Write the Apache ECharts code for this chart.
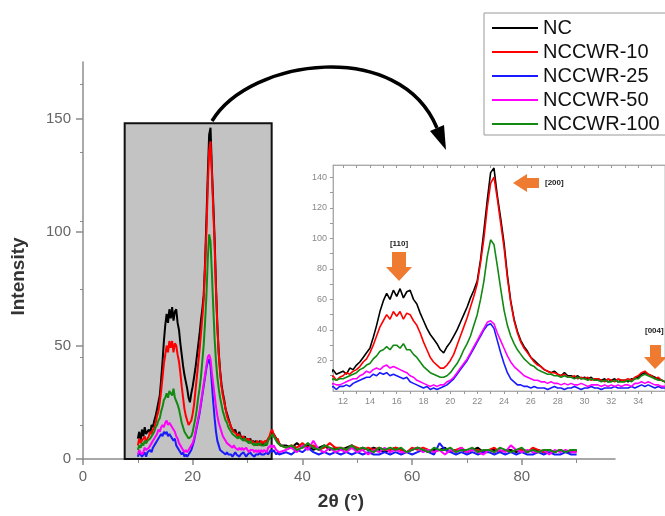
<!DOCTYPE html>
<html>
<head>
<meta charset="utf-8">
<script src="https://cdn.jsdelivr.net/npm/echarts@6/dist/echarts.min.js"></script>
<style>
  html, body { margin: 0; padding: 0; background: #fff; }
  #chart { width: 665px; height: 516px; }
</style>
</head>
<body>
<div id="chart"></div>
<script>
// diffraction angle, 0.25 deg steps over the peaks, 1 deg steps beyond
const twoTheta = [
  10, 10.25, 10.5, 10.75, 11, 11.25, 11.5, 11.75, 12, 12.25, 12.5, 12.75,
  13, 13.25, 13.5, 13.75, 14, 14.25, 14.5, 14.75, 15, 15.25, 15.5, 15.75,
  16, 16.25, 16.5, 16.75, 17, 17.25, 17.5, 17.75, 18, 18.25, 18.5, 18.75,
  19, 19.25, 19.5, 19.75, 20, 20.25, 20.5, 20.75, 21, 21.25, 21.5, 21.75,
  22, 22.25, 22.5, 22.75, 23, 23.25, 23.5, 23.75, 24, 24.25, 24.5, 24.75,
  25, 25.25, 25.5, 25.75, 26, 26.25, 26.5, 26.75, 27, 27.25, 27.5, 27.75,
  28, 28.25, 28.5, 28.75, 29, 29.25, 29.5, 29.75, 30, 30.25, 30.5, 30.75,
  31, 31.25, 31.5, 31.75, 32, 32.25, 32.5, 32.75, 33, 33.25, 33.5, 33.75,
  34, 34.25, 34.5, 34.75, 35, 35.25, 35.5, 35.75, 36,
  37, 38, 39, 40, 41, 42, 43, 44, 45, 46,
  47, 48, 49, 50, 51, 52, 53, 54, 55, 56,
  57, 58, 59, 60, 61, 62, 63, 64, 65, 66,
  67, 68, 69, 70, 71, 72, 73, 74, 75, 76,
  77, 78, 79, 80, 81, 82, 83, 84, 85, 86,
  87, 88, 89, 90
];

const nc = [
  9, 12, 8, 13, 10, 14, 11, 12, 13, 11, 15, 14,
  17, 19, 22, 25, 28, 35, 43, 52, 59, 64, 60, 66,
  62, 67, 61, 65, 66, 60, 57, 51, 46, 41, 37, 34,
  31, 27, 25, 29, 32, 36, 40, 45, 50, 55, 61, 66,
  72, 86, 105, 125, 143, 146, 128, 113, 97, 76, 59, 47,
  39, 33, 29, 26, 22, 20, 18, 16, 14, 13, 12, 13,
  11, 10, 12, 10, 10, 9, 10, 8, 9, 8, 9, 7,
  8, 7, 8, 6, 7, 8, 6, 7, 7, 6, 8, 8,
  9, 11, 12, 11, 10, 9, 8, 7, 6,
  6, 5, 7, 5, 6, 4, 5, 6, 4, 5,
  4, 5, 6, 4, 5, 4, 5, 4, 3, 4,
  5, 4, 3, 4, 5, 4, 3, 4, 4, 5,
  3, 4, 4, 3, 4, 5, 3, 4, 4, 3,
  4, 4, 3, 4, 3, 4, 4, 3, 4, 3,
  4, 3, 3, 4
];

const nccwr10 = [
  6, 9, 7, 8, 8, 10, 7, 9, 10, 12, 11, 13,
  14, 16, 19, 21, 25, 30, 36, 42, 46, 50, 47, 52,
  49, 52, 47, 51, 50, 46, 43, 38, 32, 27, 22, 19,
  17, 15, 15, 17, 20, 24, 30, 36, 42, 48, 55, 62,
  70, 84, 100, 120, 136, 140, 126, 110, 94, 74, 58, 46,
  38, 32, 28, 25, 22, 19, 17, 16, 14, 13, 12, 12,
  11, 10, 11, 9, 9, 10, 8, 9, 8, 9, 7, 8,
  8, 7, 6, 8, 7, 6, 8, 7, 7, 8, 7, 9,
  10, 12, 13, 11, 10, 8, 9, 7, 6,
  5, 6, 5, 7, 5, 6, 4, 5, 7, 5,
  5, 4, 6, 5, 4, 5, 4, 5, 4, 4,
  5, 4, 3, 5, 4, 5, 4, 3, 4, 4,
  3, 4, 5, 3, 4, 4, 3, 4, 5, 3,
  4, 3, 4, 4, 3, 5, 4, 3, 4, 3,
  4, 3, 4, 3
];

const nccwr25 = [
  1, 3, 2, 1, 2, 3, 1, 3, 3, 4, 3, 5,
  6, 7, 8, 9, 9, 11, 10, 12, 11, 12, 10, 11,
  10, 9, 8, 9, 6, 5, 4, 3, 2, 3, 1, 2,
  1, 2, 3, 4, 6, 8, 11, 14, 17, 20, 24, 28,
  32, 36, 40, 43, 44, 41, 33, 25, 18, 12, 8, 6,
  4, 4, 3, 3, 2, 3, 2, 2, 2, 1, 2, 3,
  2, 2, 1, 2, 2, 3, 2, 1, 2, 2, 3, 2,
  2, 1, 2, 2, 2, 3, 2, 2, 2, 2, 3, 2,
  3, 4, 3, 4, 3, 2, 3, 2, 2,
  3, 2, 4, 3, 5, 3, 2, 3, 2, 3,
  2, 3, 2, 3, 2, 3, 2, 2, 3, 2,
  3, 2, 3, 2, 3, 4, 3, 2, 7, 4,
  3, 2, 3, 2, 3, 2, 3, 3, 2, 3,
  2, 3, 2, 3, 2, 2, 3, 2, 3, 2,
  2, 3, 2, 2
];

const nccwr50 = [
  2, 4, 3, 2, 3, 5, 4, 4, 5, 6, 7, 8,
  8, 10, 11, 13, 12, 14, 15, 14, 16, 17, 15, 16,
  15, 14, 13, 12, 10, 9, 7, 6, 5, 4, 3, 4,
  3, 4, 4, 6, 7, 9, 12, 15, 18, 21, 25, 29,
  33, 37, 41, 45, 46, 44, 38, 33, 28, 23, 19, 16,
  14, 12, 10, 9, 8, 7, 7, 6, 6, 5, 6, 5,
  5, 4, 5, 4, 5, 4, 4, 5, 4, 3, 4, 4,
  4, 3, 4, 3, 4, 3, 4, 3, 4, 4, 3, 5,
  5, 6, 5, 6, 5, 4, 4, 3, 3,
  4, 5, 3, 6, 4, 8, 4, 3, 5, 3,
  4, 3, 5, 3, 4, 2, 4, 3, 5, 3,
  4, 3, 3, 4, 5, 3, 4, 3, 4, 2,
  4, 3, 5, 3, 4, 3, 2, 4, 3, 4,
  3, 6, 4, 3, 4, 3, 3, 4, 2, 4,
  3, 4, 3, 3
];

const nccwr100 = [
  4, 6, 5, 7, 6, 8, 7, 8, 8, 9, 10, 11,
  12, 14, 15, 17, 18, 21, 23, 26, 27, 29, 27, 30,
  30, 28, 31, 27, 27, 24, 22, 19, 16, 14, 12, 11,
  10, 9, 9, 10, 12, 15, 18, 22, 27, 31, 36, 43,
  50, 60, 72, 88, 99, 96, 82, 67, 53, 43, 36, 31,
  27, 24, 21, 19, 17, 16, 14, 13, 12, 11, 11, 10,
  10, 9, 10, 9, 9, 8, 9, 8, 8, 7, 8, 7,
  7, 6, 7, 6, 6, 7, 6, 6, 6, 7, 6, 8,
  8, 10, 11, 10, 9, 8, 7, 7, 6,
  5, 6, 4, 5, 7, 5, 4, 6, 5, 4,
  5, 4, 6, 4, 5, 4, 3, 5, 4, 5,
  4, 5, 3, 4, 5, 4, 3, 5, 4, 4,
  5, 3, 4, 4, 5, 3, 4, 4, 3, 5,
  4, 3, 4, 5, 3, 4, 3, 4, 4, 3,
  4, 3, 4, 4
];

const names = ['NC', 'NCCWR-10', 'NCCWR-25', 'NCCWR-50', 'NCCWR-100'];
const colors = ['#000000', '#ff0000', '#1a1aff', '#ff00ff', '#128a12'];
const values = [nc, nccwr10, nccwr25, nccwr50, nccwr100];

// shaded zoom window in the main plot
const zoomBox = [[7.6, 0], [34.4, 148]];

const mainXTicks = [0, 20, 40, 60, 80];
const mainYTicks = [0, 50, 100, 150];
const insetXLabels = [12, 14, 16, 18, 20, 22, 24, 26, 28, 30, 32, 34];
const insetXTicks = [12, 13, 14, 15, 16, 17, 18, 19, 20, 21, 22, 23, 24, 25, 26, 27, 28, 29, 30, 31, 32, 33, 34, 35];
const insetYLabels = [20, 40, 60, 80, 100, 120, 140];
const insetYTicks = [10, 20, 30, 40, 50, 60, 70, 80, 90, 100, 110, 120, 130, 140];

const font = '"Liberation Sans", Arial, sans-serif';
const axisGray = '#8c8c8c';
const orange = '#ee7b30';

let chart = echarts.init(document.getElementById('chart'));

let series = [];
series.push({
  type: 'line',
  name: 'box',
  xAxisIndex: 0,
  yAxisIndex: 0,
  data: [],
  z: 1,
  silent: true,
  markArea: {
    silent: true,
    itemStyle: { color: '#c3c3c3', borderColor: '#111', borderWidth: 2 },
    data: [[{ coord: zoomBox[0] }, { coord: zoomBox[1] }]],
  },
});
values.forEach((v, i) => {
  let pts = twoTheta.map((x, k) => [x, v[k]]);
  series.push({
    type: 'line',
    name: names[i],
    xAxisIndex: 0,
    yAxisIndex: 0,
    data: pts,
    symbol: 'none',
    z: 3,
    lineStyle: { color: colors[i], width: 2 },
    itemStyle: { color: colors[i] },
  });
});
values.forEach((v, i) => {
  let pts = twoTheta.map((x, k) => [x, v[k]]);
  series.push({
    type: 'line',
    name: names[i],
    xAxisIndex: 1,
    yAxisIndex: 1,
    data: pts,
    symbol: 'none',
    clip: true,
    z: 3,
    lineStyle: { color: colors[i], width: 1.6 },
    itemStyle: { color: colors[i] },
  });
});

const orangeArrows = [
  // [200] pointing left
  [[513, 183], [527, 174], [527, 178], [539, 178], [539, 188], [527, 188], [527, 192]],
  // [110] pointing down
  [[392, 252], [406, 252], [406, 267], [412, 267], [399, 281], [386, 267], [392, 267]],
  // [004] pointing down
  [[650, 345], [661, 345], [661, 357], [667, 357], [655, 369], [644, 357], [650, 357]],
];

let graphics = orangeArrows.map((p) => ({
  type: 'polygon',
  z: 20,
  shape: { points: p },
  style: { fill: orange },
}));
graphics.push(
  { type: 'text', z: 20, x: 545, y: 183, style: { text: '[200]', font: 'bold 8px ' + font, fill: '#222', verticalAlign: 'middle' } },
  { type: 'text', z: 20, x: 399, y: 244, style: { text: '[110]', font: 'bold 8px ' + font, fill: '#222', align: 'center', verticalAlign: 'middle' } },
  { type: 'text', z: 20, x: 645, y: 331, style: { text: '[004]', font: 'bold 8px ' + font, fill: '#222', verticalAlign: 'middle' } },
  {
    type: 'bezierCurve',
    z: 20,
    shape: { x1: 212, y1: 121, cpx1: 250, cpy1: 58, cpx2: 400, cpy2: 38, x2: 437, y2: 128 },
    style: { stroke: '#000', lineWidth: 3.5, fill: null },
  },
  {
    type: 'polygon',
    z: 20,
    shape: { points: [[430, 131], [444, 125], [446, 150]] },
    style: { fill: '#000' },
  }
);

chart.setOption({
  animation: false,
  backgroundColor: '#fff',
  textStyle: { fontFamily: font },
  legend: {
    data: names,
    orient: 'vertical',
    left: 484,
    top: 13,
    icon: 'rect',
    itemWidth: 46,
    itemHeight: 2,
    itemGap: 4,
    padding: [5, 10, 1, 8],
    borderColor: '#999',
    borderWidth: 1,
    backgroundColor: '#fff',
    selectedMode: false,
    textStyle: { fontSize: 20, lineHeight: 20, color: '#111', fontFamily: font },
  },
  grid: [
    { left: 83, top: 62, right: 50, bottom: 56 },
    { left: 333, top: 165, right: -10, bottom: 125, show: true, backgroundColor: '#fff', borderColor: '#bbb', borderWidth: 1 },
  ],
  xAxis: [
    {
      type: 'value',
      gridIndex: 0,
      min: 0,
      max: 97,
      axisLine: { show: true, onZero: false, lineStyle: { color: axisGray, width: 1.5 } },
      axisTick: { show: true, length: 6, customValues: mainXTicks, lineStyle: { color: axisGray, width: 1.5 } },
      minorTick: { show: true, splitNumber: 2, length: 4, lineStyle: { color: axisGray } },
      axisLabel: { customValues: mainXTicks, color: '#666', fontSize: 15, margin: 10 },
      splitLine: { show: false },
      name: '2θ (°)',
      nameLocation: 'middle',
      nameGap: 33,
      nameTextStyle: { fontSize: 19, fontWeight: 'bold', color: '#333', padding: [0, 16, 0, 0] },
    },
    {
      type: 'value',
      gridIndex: 1,
      min: 11.25,
      max: 36,
      axisLine: { show: true, onZero: false, lineStyle: { color: '#aaa', width: 1 } },
      axisTick: { show: true, length: 3, customValues: insetXTicks, lineStyle: { color: '#999' } },
      axisLabel: { customValues: insetXLabels, color: '#888', fontSize: 9, margin: 6 },
      splitLine: { show: false },
    },
    {
      type: 'value',
      gridIndex: 1,
      position: 'top',
      min: 11.25,
      max: 36,
      axisLine: { show: true, onZero: false, lineStyle: { color: '#aaa', width: 1 } },
      axisTick: { show: true, inside: true, length: 3, customValues: insetXTicks, lineStyle: { color: '#999' } },
      axisLabel: { show: false },
      splitLine: { show: false },
    },
  ],
  yAxis: [
    {
      type: 'value',
      gridIndex: 0,
      min: 0,
      max: 175,
      axisLine: { show: true, onZero: false, lineStyle: { color: axisGray, width: 1.5 } },
      axisTick: { show: true, length: 7, customValues: mainYTicks, lineStyle: { color: axisGray, width: 1.5 } },
      minorTick: { show: true, splitNumber: 2, length: 3, lineStyle: { color: axisGray } },
      axisLabel: { customValues: mainYTicks, color: '#666', fontSize: 15, margin: 12 },
      splitLine: { show: false },
      name: 'Intensity',
      nameLocation: 'middle',
      nameGap: 55,
      nameTextStyle: { fontSize: 19, fontWeight: 'bold', color: '#333', padding: [0, 32, 0, 0] },
    },
    {
      type: 'value',
      gridIndex: 1,
      min: 0,
      max: 148,
      axisLine: { show: true, onZero: false, lineStyle: { color: '#aaa', width: 1 } },
      axisTick: { show: true, length: 3, customValues: insetYTicks, lineStyle: { color: '#999' } },
      axisLabel: { customValues: insetYLabels, color: '#888', fontSize: 9, margin: 6 },
      splitLine: { show: false },
    },
  ],
  graphic: graphics,
  series: series,
});
</script>
</body>
</html>
